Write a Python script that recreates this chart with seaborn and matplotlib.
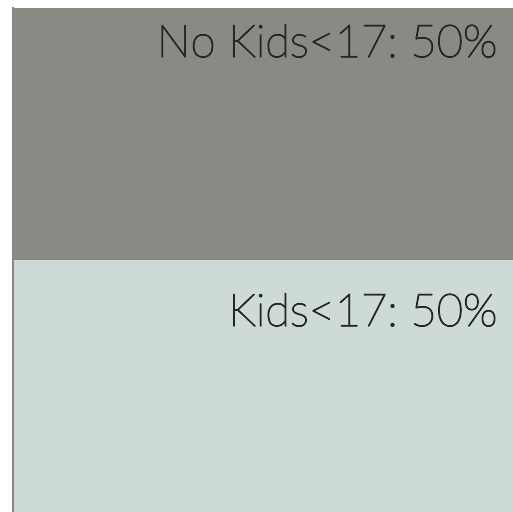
import matplotlib
matplotlib.use("Agg")
import matplotlib.pyplot as plt
import matplotlib.patheffects as pe
import seaborn as sns
import pandas as pd

categories = ["No Kids<17", "Kids<17"]
shares = [50, 50]
colors = ["#8a8a85", "#cddad8"]

sns.set_style("white")
plt.rcParams["font.family"] = ["Lato", "DejaVu Sans"]

fig = plt.figure(figsize=(5.13, 5.12), dpi=100)
W, H = 513, 512
ax = fig.add_axes([13 / W, 0, (W - 13) / W + 0.01, (H - 8) / H])

# stacked: cumulative tops from bottom
tops = []
cum = 0
for v in reversed(shares):
    cum += v
    tops.append(cum)
tops = list(reversed(tops))

df = pd.DataFrame({"g": ["all"] * len(categories), "cat": categories, "top": tops})
for i in range(len(df)):
    sns.barplot(data=df.iloc[[i]], x="g", y="top", color=colors[i], width=1.0,
                saturation=1, ax=ax, linewidth=0, zorder=1 + i)

ax.set_xlim(-0.5, 0.5 + 0.01 * W / (W - 13))
ax.set_ylim(0, sum(shares))
ax.set_xticks([])
ax.set_yticks([])
ax.set_xlabel("")
ax.set_ylabel("")
for s in ["top", "right", "bottom"]:
    ax.spines[s].set_visible(False)
ax.spines["left"].set_color(colors[0])
ax.spines["left"].set_linewidth(1.5)
ax.spines["left"].set_zorder(5)

baseline_offsets = [-49, -66]
for i, (c, v) in enumerate(zip(categories, shares)):
    ax.annotate(f"{c}: {v}%", xy=(497, tops[i]), xycoords=("figure pixels", "data"),
                xytext=(0, baseline_offsets[i]), textcoords="offset pixels",
                ha="right", va="baseline", fontsize=32.5, fontweight="light",
                color="#262626", zorder=10,
                path_effects=[pe.withStroke(linewidth=0.9, foreground="#262626")])

fig.savefig("out.png", dpi=100)
